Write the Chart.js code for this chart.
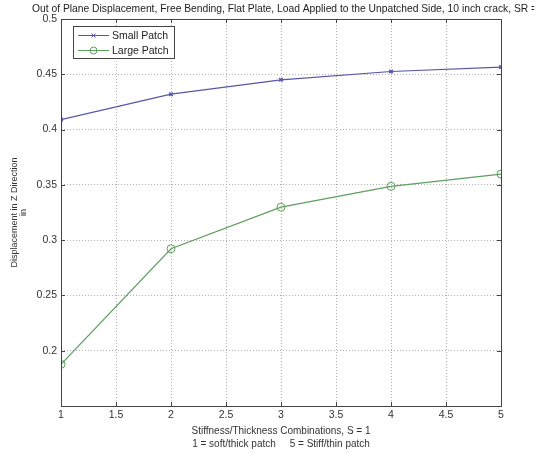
<!DOCTYPE html>
<html lang="en">
<head>
  <meta charset="UTF-8" />
  <title>Out of Plane Displacement</title>
  <script src="https://cdn.jsdelivr.net/npm/chart.js"></script>
  <style>
    body { margin: 0; background: #fff; }
    #wrap { width: 534px; height: 455px; }
  </style>
</head>
<body>
<div id="wrap"><canvas id="dispChart" width="534" height="455"></canvas></div>

<script>
  // data
  const combos = [1, 2, 3, 4, 5];
  const smallPatch = [0.409, 0.432, 0.445, 0.4525, 0.4565];
  const largePatch = [0.1877, 0.2922, 0.3298, 0.3487, 0.3597];

  const titleText = "Out of Plane Displacement, Free Bending, Flat Plate, Load Applied to the Unpatched Side, 10 inch crack, SR = 1";
  const xTitle = ["Stiffness/Thickness Combinations, S = 1", "1 = soft/thick patch     5 = Stiff/thin patch"];
  const yTitle = ["Displacement in Z Direction", "in"];

  const FONT = "'Liberation Sans', Arial, sans-serif";
  const blue = "#5656a8";
  const green = "#5e9e5e";

  // matlab-ish frame: box, inward ticks, title, legend inside the axes
  const matlabFrame = {
    id: "matlabFrame",
    afterDraw(chart) {
      const { ctx, chartArea: a, scales } = chart;
      ctx.save();
      ctx.strokeStyle = "#444";
      ctx.lineWidth = 1;
      ctx.strokeRect(a.left + 0.5, a.top + 0.5, a.right - a.left, a.bottom - a.top);

      ctx.beginPath();
      scales.x.ticks.forEach(t => {
        const px = Math.round(scales.x.getPixelForValue(t.value)) + 0.5;
        ctx.moveTo(px, a.bottom); ctx.lineTo(px, a.bottom - 4);
        ctx.moveTo(px, a.top); ctx.lineTo(px, a.top + 4);
      });
      scales.y.ticks.forEach(t => {
        const py = Math.round(scales.y.getPixelForValue(t.value)) + 0.5;
        ctx.moveTo(a.left, py); ctx.lineTo(a.left + 4, py);
        ctx.moveTo(a.right, py); ctx.lineTo(a.right - 4, py);
      });
      ctx.stroke();

      // title (runs off the right edge like the original)
      ctx.fillStyle = "#222";
      ctx.font = "10.3px " + FONT;
      ctx.textAlign = "left";
      ctx.textBaseline = "middle";
      ctx.fillText(titleText, 32, 9);

      // legend box
      ctx.font = "10.5px " + FONT;
      const lx = 73, ly = 26, lw = 101, lh = 32;
      ctx.fillStyle = "#fff";
      ctx.fillRect(lx, ly, lw, lh);
      ctx.strokeStyle = "#444";
      ctx.strokeRect(lx + 0.5, ly + 0.5, lw, lh);
      chart.data.datasets.forEach((ds, i) => {
        const y = ly + 9 + i * 15;
        ctx.strokeStyle = ds.borderColor;
        ctx.beginPath();
        ctx.moveTo(lx + 5, y + 0.5); ctx.lineTo(lx + 36, y + 0.5);
        ctx.stroke();
        const cx = lx + 20.5;
        if (ds.pointStyle === "circle") {
          ctx.beginPath(); ctx.arc(cx, y + 0.5, 3.5, 0, Math.PI * 2); ctx.stroke();
        } else {
          ctx.beginPath();
          ctx.moveTo(cx - 2, y - 1.5); ctx.lineTo(cx + 2, y + 2.5);
          ctx.moveTo(cx + 2, y - 1.5); ctx.lineTo(cx - 2, y + 2.5);
          ctx.stroke();
        }
        ctx.fillStyle = "#222";
        ctx.fillText(ds.label, lx + 39, y + 1);
      });
      ctx.restore();
    }
  };

  const ctx = document.getElementById("dispChart").getContext("2d");
  const chart = new Chart(ctx, {
    type: "line",
    data: {
      datasets: [{
        label: "Small Patch",
        data: combos.map((x, i) => ({ x, y: smallPatch[i] })),
        borderColor: blue,
        backgroundColor: blue,
        borderWidth: 1.2,
        pointStyle: "crossRot",
        pointRadius: 2.5,
        pointBorderWidth: 1.5,
        tension: 0
      }, {
        label: "Large Patch",
        data: combos.map((x, i) => ({ x, y: largePatch[i] })),
        borderColor: green,
        backgroundColor: "rgba(255,255,255,0)",
        borderWidth: 1.2,
        pointStyle: "circle",
        pointRadius: 4,
        pointBorderWidth: 1,
        tension: 0
      }]
    },
    options: {
      responsive: false,
      animation: false,
      layout: { padding: { top: 19, right: 33, left: 10, bottom: 5 } },
      plugins: {
        legend: { display: false },
        title: { display: false },
        tooltip: { enabled: false }
      },
      scales: {
        x: {
          type: "linear",
          min: 1,
          max: 5,
          ticks: {
            stepSize: 0.5,
            color: "#333",
            font: { family: FONT, size: 10.5 },
            padding: 3,
            maxRotation: 0,
            callback: v => String(Number(v.toFixed(2)))
          },
          grid: { color: "#b0b0b0", drawTicks: false },
          border: { display: false, dash: [1, 2] },
          title: {
            display: true,
            text: xTitle,
            color: "#333",
            font: { family: FONT, size: 10, lineHeight: 1.25 },
            padding: { top: 1, bottom: 0 }
          },
          afterFit: s => { s.height = 44; }
        },
        y: {
          min: 0.15,
          max: 0.5,
          ticks: {
            stepSize: 0.05,
            color: "#333",
            font: { family: FONT, size: 10.5 },
            padding: 4,
            callback: v => (Math.abs(v - 0.15) < 1e-6 ? "" : String(Number(v.toFixed(2))))
          },
          grid: { color: "#b0b0b0", drawTicks: false },
          border: { display: false, dash: [1, 2] },
          title: {
            display: true,
            text: yTitle,
            color: "#333",
            font: { family: FONT, size: 9, lineHeight: 1.0 },
            padding: { top: 0, bottom: 4 }
          },
          afterFit: s => { s.width = 51; }
        }
      }
    },
    plugins: [matlabFrame]
  });
</script>
</body>
</html>
